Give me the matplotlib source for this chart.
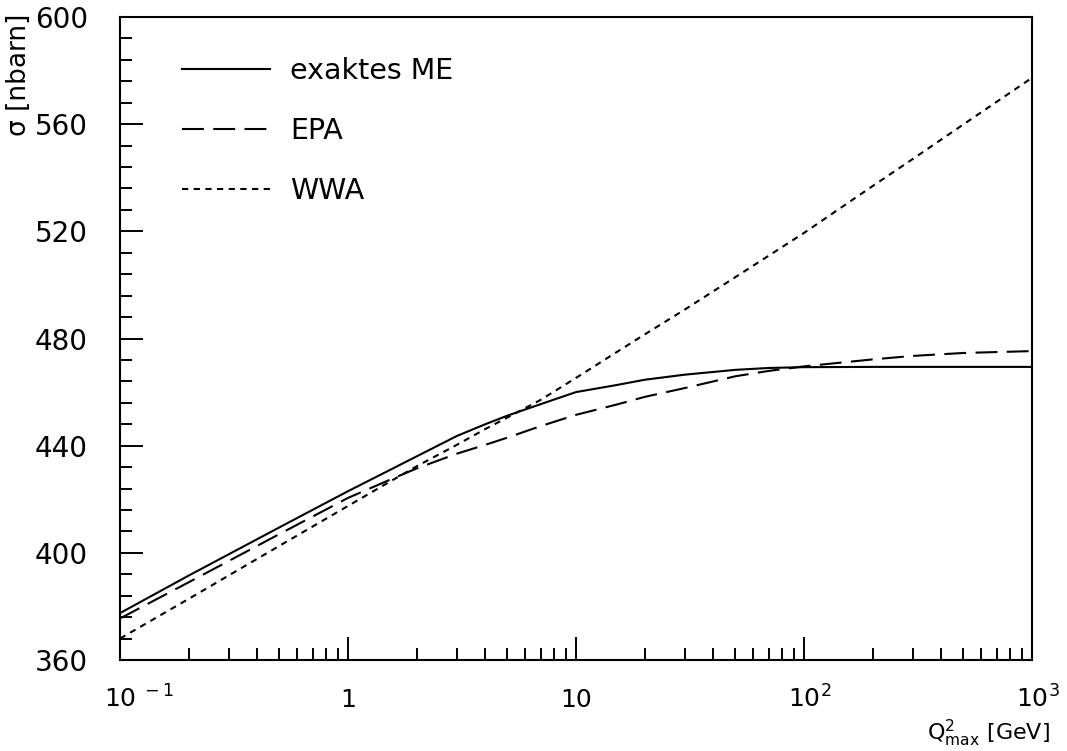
import matplotlib
matplotlib.use("Agg")
import matplotlib.pyplot as plt
import matplotlib.transforms as mtransforms
from matplotlib.ticker import FixedLocator, MultipleLocator, LogLocator, NullFormatter

plt.rcParams['font.family'] = ['DejaVu Sans']
plt.rcParams['mathtext.fontset'] = 'dejavusans'

# values
q2max = [0.1, 0.2, 0.5, 1, 1.5, 2, 3, 4, 5, 7, 10, 15, 20, 30, 50, 70, 100, 200, 300, 500, 1000]
sigmaME = [377.5, 391.5, 409.5, 423, 430.6, 436, 443.6, 448, 451.2, 455.5, 460, 462.6,
           464.6, 466.5, 468.3, 469, 469.3, 469.4, 469.4, 469.4, 469.4]
sigmaEPA = [375.5, 389, 407, 420.5, 427, 431.5, 437, 440.3, 443, 447.3, 451.5, 455.3,
            458.2, 461.5, 465.9, 467.9, 469.6, 472.2, 473.5, 474.6, 475.3]
sigmaWWA = [368, 382.8, 402.6, 417.5, 426.2, 432.3, 440.3, 446.2, 450.5, 457.1, 465.3,
            474.8, 481.5, 490.8, 502.9, 510.9, 519.4, 536.9, 547, 559.9, 577.3]
seriesNames = ['exaktes ME', 'EPA', 'WWA']

xTicks = [0.1, 1, 10, 100, 1000]
xTickLabels = [r'$10^{\;-1}$', '1', '10', r'$10^{2}$', r'$10^{3}$']
yTicks = [360, 400, 440, 480, 520, 560, 600]

fig = plt.figure(figsize=(10.67, 7.51), dpi=100)
ax = fig.add_axes([120/1067, 91/751, 912/1067, 643/751])

lw = 1.5
ax.plot(q2max, sigmaME, color='black', lw=lw, label=seriesNames[0])
ax.plot(q2max, sigmaEPA, color='black', lw=lw, dashes=(10.5, 4.5), label=seriesNames[1])
ax.plot(q2max, sigmaWWA, color='black', lw=lw, dashes=(3, 2.6), label=seriesNames[2])

ax.set_xscale('log')
ax.set_xlim(0.1, 1000)
ax.set_ylim(360, 600)

ax.xaxis.set_major_locator(FixedLocator(xTicks))
ax.xaxis.set_minor_locator(LogLocator(base=10, subs=range(2, 10)))
ax.xaxis.set_minor_formatter(NullFormatter())
ax.set_xticks(xTicks)
ax.set_xticklabels(xTickLabels)
ax.set_yticks(yTicks)
ax.yaxis.set_minor_locator(MultipleLocator(8))

for s in ax.spines.values():
    s.set_linewidth(1.5)

ax.tick_params(which='both', direction='in', top=False, right=False, width=1.4)
ax.tick_params(which='major', length=16.5)
ax.tick_params(which='minor', length=8.5)
ax.tick_params(axis='y', which='major', pad=23, labelsize=20)
ax.tick_params(axis='x', which='major', pad=34, labelsize=18)

# PAW style: put the "10" under the tick, exponent hanging to the right
for lab in ax.xaxis.get_majorticklabels():
    lab.set_verticalalignment('baseline')
    if '^' in lab.get_text():
        lab.set_horizontalalignment('left')
        shift = mtransforms.ScaledTranslation(-0.16, 0, fig.dpi_scale_trans)
        lab.set_transform(lab.get_transform() + shift)

ax.set_xlabel(r'$\mathrm{Q}^{2}_{\mathrm{max}}$ [GeV]', fontsize=16, ha='right', va='center')
ax.xaxis.set_label_coords(1.02, -0.1135)
ax.set_ylabel('σ [nbarn]', fontsize=19, loc='top')
ax.yaxis.set_label_coords(-0.0965, 1.005)

ax.legend(loc='upper left', bbox_to_anchor=(0.068, 0.938), frameon=False, fontsize=20.5,
          handlelength=3.1, handletextpad=0.7, labelspacing=1.13, borderpad=0,
          borderaxespad=0)

fig.savefig('out.png', dpi=100)
